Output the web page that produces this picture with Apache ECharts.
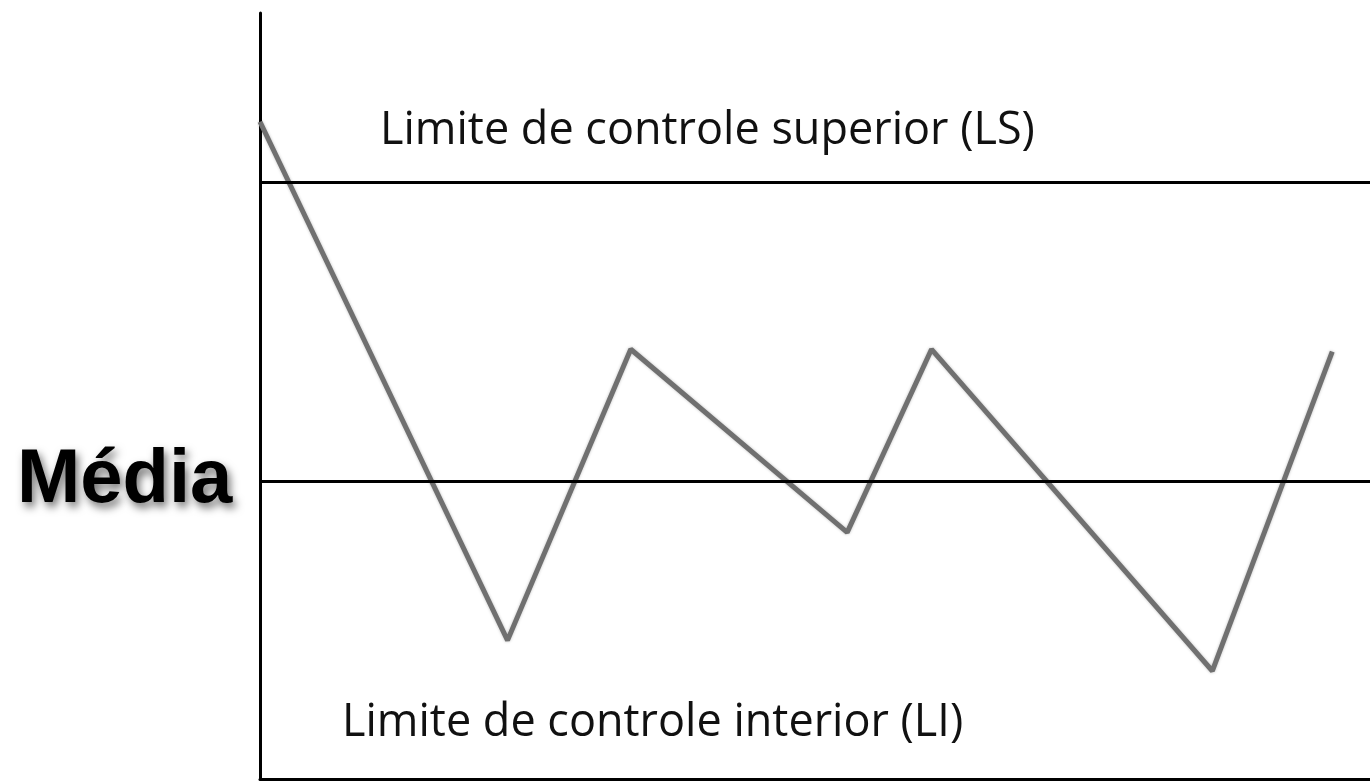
<!DOCTYPE html>
<html>
<head>
<meta charset="utf-8">
<script src="https://cdn.jsdelivr.net/npm/echarts@6/dist/echarts.min.js"></script>
<style>
  html, body { margin: 0; padding: 0; background: #fff; }
  #chart { width: 1370px; height: 782px; }
</style>
</head>
<body>
<div id="chart"></div>
<script>
// sample positions (0-100 along the run) and measured values (0-100 scale)
const sampleX = [0, 22.3, 33.4, 52.9, 60.5, 85.8, 96.6]
const sampleY = [85.8, 18.1, 56.1, 32.2, 56.1, 14.1, 55.8]
const upperLimit = 77.9
const mean = 38.9
const labels = {
  upper: 'Limite de controle superior (LS)',
  lower: 'Limite de controle interior (LI)',
  mean: 'Média'
}

const chart = echarts.init(document.getElementById('chart'))

const option = {
  animation: false,
  grid: { left: 260, right: 0, top: 13, bottom: 3 },
  xAxis: {
    type: 'value',
    min: 0,
    max: 100,
    axisLine: { show: true, onZero: false, lineStyle: { color: '#000', width: 3 } },
    axisTick: { show: false },
    axisLabel: { show: false },
    splitLine: { show: false }
  },
  yAxis: {
    type: 'value',
    min: 0,
    max: 100,
    axisLine: { show: true, onZero: false, lineStyle: { color: '#000', width: 3 } },
    axisTick: { show: false },
    axisLabel: { show: false },
    splitLine: { show: false }
  },
  series: [
    {
      type: 'line',
      data: sampleX.map((x, i) => [x, sampleY[i]]),
      showSymbol: false,
      lineStyle: { color: '#707070', width: 5, shadowColor: 'rgba(0,0,0,0.25)', shadowBlur: 3 },
      z: 3
    },
    {
      type: 'line',
      data: [],
      markLine: {
        silent: true,
        symbol: 'none',
        label: { show: false },
        lineStyle: { color: '#000', width: 3, type: 'solid' },
        data: [{ yAxis: upperLimit }, { yAxis: mean }]
      },
      z: 2
    }
  ],
  graphic: [
    {
      type: 'text',
      left: 380,
      top: 109,
      style: { text: labels.upper, font: '45px "Open Sans", sans-serif', fill: '#111' }
    },
    {
      type: 'text',
      left: 342,
      top: 701,
      style: { text: labels.lower, font: '45px "Open Sans", sans-serif', fill: '#111' }
    },
    {
      type: 'text',
      left: 17,
      top: 443,
      style: {
        text: labels.mean,
        font: 'bold 76px "Liberation Sans", Arial, sans-serif',
        fill: '#000',
        textShadowColor: 'rgba(0,0,0,0.55)',
        textShadowBlur: 8,
        textShadowOffsetX: 3,
        textShadowOffsetY: 5
      }
    }
  ]
}

chart.setOption(option)
</script>
</body>
</html>
